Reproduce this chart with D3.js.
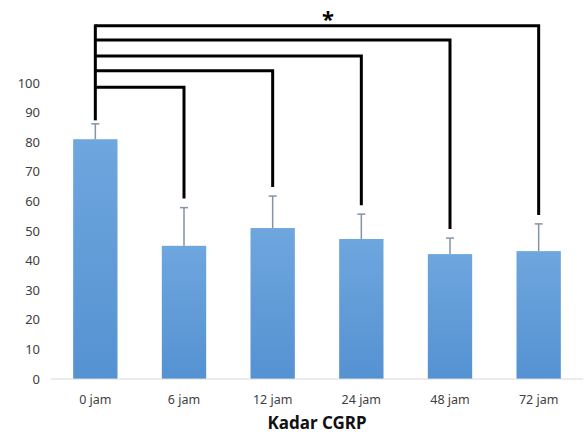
<!DOCTYPE html>
<html>
<head>
<meta charset="utf-8">
<script src="https://cdn.jsdelivr.net/npm/d3@7"></script>
<style>
  body { margin: 0; background: #fff; }
  svg { display: block; font-family: "Noto Sans", "Open Sans", sans-serif; }
</style>
</head>
<body>
<svg class="chart"></svg>
<script>
// Width and height
var width = 585, height = 438;

// data
var categories = ["0 jam", "6 jam", "12 jam", "24 jam", "48 jam", "72 jam"];
var means = [81, 45, 51, 47.3, 42.2, 43.2];
var errors = [5.2, 12.9, 10.8, 8.4, 5.4, 9.2];
var yTicks = [0, 10, 20, 30, 40, 50, 60, 70, 80, 90, 100];
// bracket heights (in axis units) for 0 jam vs each later time point
var bracketLevels = [98.6, 104.1, 109.1, 114.5, 119.3];
var xTitle = "Kadar CGRP";
var sigMark = "*";

var svg = d3.select(".chart")
  .attr("width", width)
  .attr("height", height);

// scales
var x = d3.scaleBand()
  .domain(categories)
  .range([51, 583])
  .paddingInner(0.5)
  .paddingOuter(0.25);

var y = d3.scaleLinear()
  .domain([0, 100])
  .range([379, 83]);

// bar gradient like the Excel fill
var grad = svg.append("defs").append("linearGradient")
  .attr("id", "barFill")
  .attr("x1", 0).attr("y1", 0).attr("x2", 0).attr("y2", 1);
grad.append("stop").attr("offset", "0%").attr("stop-color", "#6ea6de");
grad.append("stop").attr("offset", "100%").attr("stop-color", "#5592d2");

// y tick labels (no axis line)
svg.append("g")
  .selectAll("text")
  .data(yTicks)
  .enter()
  .append("text")
  .attr("x", 40)
  .attr("y", function (d) { return y(d); })
  .attr("dy", "0.35em")
  .attr("text-anchor", "end")
  .style("font-size", "13px")
  .style("fill", "#404040")
  .text(function (d) { return d; });

// bars
svg.selectAll(".bar")
  .data(categories)
  .enter()
  .append("rect")
  .attr("class", "bar")
  .attr("x", function (d) { return x(d); })
  .attr("width", x.bandwidth())
  .attr("y", function (d, i) { return y(means[i]); })
  .attr("height", function (d, i) { return y(0) - y(means[i]); })
  .attr("fill", "url(#barFill)");

// error bars (upper only)
var eb = svg.append("g")
  .attr("stroke", "#8393a8")
  .attr("stroke-width", 1.5);
categories.forEach(function (c, i) {
  var cx = x(c) + x.bandwidth() / 2;
  var top = y(means[i] + errors[i]);
  eb.append("line")
    .attr("x1", cx).attr("x2", cx)
    .attr("y1", y(means[i])).attr("y2", top);
  eb.append("line")
    .attr("x1", cx - 4).attr("x2", cx + 4)
    .attr("y1", top).attr("y2", top);
});

// x axis baseline
svg.append("line")
  .attr("x1", 51).attr("x2", 583)
  .attr("y1", y(0)).attr("y2", y(0))
  .attr("stroke", "#d9d9d9")
  .attr("stroke-width", 1);

// x tick labels
svg.append("g")
  .selectAll("text")
  .data(categories)
  .enter()
  .append("text")
  .attr("x", function (d) { return x(d) + x.bandwidth() / 2; })
  .attr("y", 404)
  .attr("text-anchor", "middle")
  .style("font-size", "12.5px")
  .style("fill", "#404040")
  .text(function (d) { return d; });

// x title
svg.append("text")
  .attr("x", 317)
  .attr("y", 429)
  .attr("text-anchor", "middle")
  .style("font-size", "17px")
  .style("font-weight", "bold")
  .style("fill", "#111")
  .text(xTitle);

// significance brackets: 0 jam against every later bar
var br = svg.append("g")
  .attr("fill", "none")
  .attr("stroke", "#000")
  .attr("stroke-width", 3)
  .attr("stroke-linecap", "square");
var x0 = x(categories[0]) + x.bandwidth() / 2;
br.append("line")
  .attr("x1", x0).attr("x2", x0)
  .attr("y1", y(d3.max(bracketLevels)))
  .attr("y2", y(means[0] + errors[0]) - 5);
bracketLevels.forEach(function (lvl, k) {
  var i = k + 1;
  var cx = x(categories[i]) + x.bandwidth() / 2;
  br.append("path")
    .attr("stroke-linecap", "butt")
    .attr("d", "M" + x0 + "," + y(lvl) + "H" + cx + "V" + (y(means[i] + errors[i]) - 9));
});

// asterisk above the top bracket
svg.append("text")
  .attr("x", 328)
  .attr("y", 15)
  .attr("dy", "0.55em")
  .attr("text-anchor", "middle")
  .style("font-size", "22px")
  .style("font-weight", "bold")
  .style("fill", "#000")
  .text(sigMark);
</script>
</body>
</html>
